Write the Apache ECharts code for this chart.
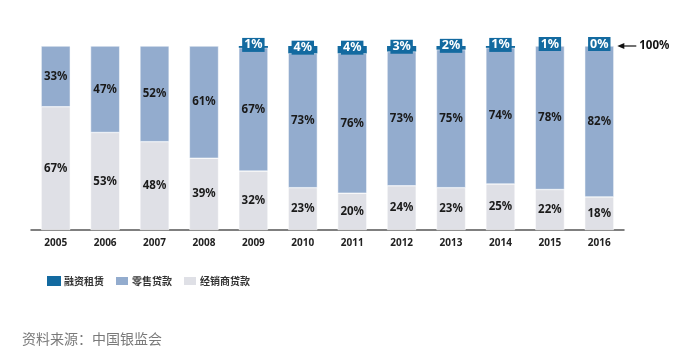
<!DOCTYPE html>
<html>
<head>
<meta charset="utf-8">
<script src="https://cdn.jsdelivr.net/npm/echarts@6/dist/echarts.min.js"></script>
<style>
html,body{margin:0;padding:0;background:#fff;}
#main{width:692px;height:364px;}
</style>
</head>
<body>
<div id="main"></div>
<script>
var years = ['2005','2006','2007','2008','2009','2010','2011','2012','2013','2014','2015','2016'];
var leasing = ['-','-','-','-',1,4,4,3,2,1,1,0];
var retail = [33,47,52,61,67,73,76,73,75,74,78,82];
var dealer = [67,53,48,39,32,23,20,24,23,25,22,18];
var seriesNames = ['融资租赁','零售贷款','经销商贷款'];
var sourceText = '资料来源：中国银监会';
var refValue = 100;

var chart = echarts.init(document.getElementById('main'));
var FONT = '"Noto Sans", "Noto Sans CJK SC", sans-serif';
var valueLabel = {
  show: true, position: 'inside', formatter: '{c}%',
  color: '#1a1a1a', fontWeight: 'bold', fontSize: 11.5, fontFamily: FONT
};
chart.setOption({
  animation: false,
  grid: {left: 31, right: 68, top: 46, bottom: 134},
  legend: {
    data: seriesNames,
    left: 42, top: 270,
    itemWidth: 14, itemHeight: 10, itemGap: 10,
    icon: 'rect',
    textStyle: {fontSize: 10, fontWeight: 'bold', color: '#333', fontFamily: '"Noto Sans CJK SC", sans-serif', padding: [0,0,0,-2]}
  },
  xAxis: {
    type: 'category', data: years,
    axisLine: {lineStyle: {color: '#555', width: 1.5}},
    axisTick: {show: false},
    axisLabel: {color: '#222', fontWeight: 'bold', fontSize: 10, fontFamily: FONT, margin: 8}
  },
  yAxis: {type: 'value', min: 0, max: 100, show: false, splitLine: {show: false}},
  series: [
    {name: seriesNames[2], type: 'bar', stack: 's', data: dealer, barWidth: '59%',
     itemStyle: {color: '#dfe0e6', borderColor: '#fff', borderWidth: 0.5}, label: valueLabel},
    {name: seriesNames[1], type: 'bar', stack: 's', data: retail, barWidth: '59%',
     itemStyle: {color: '#93acce', borderColor: '#fff', borderWidth: 0.5}, label: valueLabel},
    {name: seriesNames[0], type: 'bar', stack: 's', data: leasing, barWidth: '59%',
     itemStyle: {color: '#136aa0'},
     label: {show: true, position: 'inside', offset: [0,-2], formatter: '{c}%',
       color: '#fff', fontWeight: 'bold', fontSize: 12.5, fontFamily: FONT,
       backgroundColor: '#136aa0', padding: [1,2,0,2], lineHeight: 13}}
  ]
});

var p = chart.convertToPixel({xAxisIndex: 0, yAxisIndex: 0}, [years[years.length-1], refValue]);
var ax = p[0] + 18, ay = p[1];
chart.setOption({
  graphic: [
    {type: 'line', shape: {x1: ax + 4, y1: ay, x2: ax + 19, y2: ay}, style: {stroke: '#111', lineWidth: 1.2}},
    {type: 'polygon', shape: {points: [[ax, ay], [ax + 7, ay - 3], [ax + 7, ay + 3]]}, style: {fill: '#111'}},
    {type: 'text', x: ax + 22, y: ay, style: {text: refValue + '%', fill: '#111', font: 'bold 11.5px "Noto Sans", sans-serif', verticalAlign: 'middle'}},
    {type: 'text', left: 22, top: 332, style: {text: sourceText, fill: '#7a7a7a', font: '14px "Noto Sans CJK SC", sans-serif'}}
  ]
});
</script>
</body>
</html>
